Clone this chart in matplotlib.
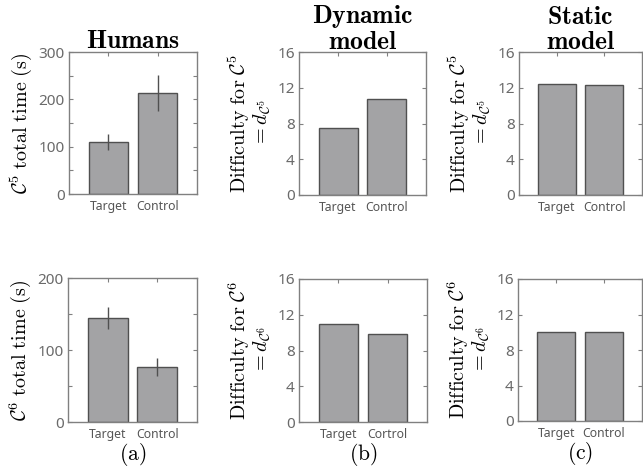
import matplotlib
matplotlib.use("Agg")
import matplotlib.pyplot as plt
from matplotlib.ticker import MultipleLocator

plt.rcParams['mathtext.fontset'] = 'cm'

categories = ["Target", "Control"]
categories_b6 = ["Target", "Cortrol"]

humans_c5 = [110, 213]
humans_c5_err = [17, 38]
humans_c6 = [144, 77]
humans_c6_err = [15.5, 12.5]
dynamic_c5 = [7.5, 10.75]
dynamic_c6 = [10.95, 9.85]
static_c5 = [12.38, 12.32]
static_c6 = [10.0, 10.0]

W, H = 643, 476
fig = plt.figure(figsize=(W / 100, H / 100), dpi=100)

def ax_at(l, r, t, b):
    return fig.add_axes([l / W, 1 - b / H, (r - l) / W, (b - t) / H])

BAR = '#a3a3a5'
EDGE = '#505050'
SPINE = '#808080'
TICKC = '#6a6a6a'

def style(ax, ylim, major, minor, labels):
    ax.set_xlim(0.2, 2.8)
    ax.set_ylim(*ylim)
    ax.yaxis.set_major_locator(MultipleLocator(major))
    if minor:
        ax.yaxis.set_minor_locator(MultipleLocator(minor))
    for s in ax.spines.values():
        s.set_color(SPINE)
        s.set_linewidth(1.0)
    ax.tick_params(axis='both', which='both', direction='in', right=True, top=True,
                   color=SPINE, length=3, width=0.8)
    ax.tick_params(axis='y', labelsize=11, labelcolor=TICKC, pad=3)
    ax.tick_params(axis='x', labelsize=8.8, labelcolor='#555555', pad=4, bottom=False)
    ax.set_xticks([1, 2])
    ax.set_xticklabels(labels)
    for lab in ax.get_xticklabels() + ax.get_yticklabels():
        lab.set_family(['Noto Sans', 'DejaVu Sans'])

def bars(ax, vals, err=None):
    ax.bar([1, 2], vals, width=0.8, color=BAR, edgecolor=EDGE, linewidth=1.0, zorder=2)
    if err is not None:
        ax.errorbar([1, 2], vals, yerr=err, fmt='none', ecolor='#505050',
                    elinewidth=1.0, capsize=0, zorder=3)

LS = 14.5
TS = 18.5
PS = 15.5

def diff_label(n):
    return (r'$\mathrm{Difficulty\ for\ }\mathcal{C}^%d$' % n + '\n' +
            r'$= d_{\mathcal{C}^%d}$' % n)

# Top row
a1 = ax_at(69, 197, 52, 194)
bars(a1, humans_c5, humans_c5_err)
style(a1, (0, 300), 100, 50, categories)
a1.set_ylabel(r'$\mathcal{C}^5\ \mathrm{total\ time\ (s)}$', fontsize=LS, labelpad=3)
a1.set_title(r'$\mathbf{Humans}$', fontsize=TS, pad=3)

a2 = ax_at(299, 426, 52, 195)
bars(a2, dynamic_c5)
style(a2, (0, 16), 4, None, categories)
a2.set_ylabel(diff_label(5), fontsize=LS, labelpad=3, linespacing=1.0)
a2.set_title(r'$\mathbf{Dynamic}$' + '\n' + r'$\mathbf{model}$', fontsize=TS, pad=2, linespacing=0.95)

a3 = ax_at(519, 642, 52, 195)
bars(a3, static_c5)
style(a3, (0, 16), 4, None, categories)
a3.set_ylabel(diff_label(5), fontsize=LS, labelpad=3, linespacing=1.0)
a3.set_title(r'$\mathbf{Static}$' + '\n' + r'$\mathbf{model}$', fontsize=TS, pad=2, linespacing=0.95)

# Bottom row
b1 = ax_at(68, 197, 278, 422)
bars(b1, humans_c6, humans_c6_err)
style(b1, (0, 200), 100, 50, categories)
b1.set_ylabel(r'$\mathcal{C}^6\ \mathrm{total\ time\ (s)}$', fontsize=LS, labelpad=3)
b1.set_xlabel(r'$\mathrm{(a)}$', fontsize=PS, labelpad=0)

b2 = ax_at(299, 427, 279, 422)
bars(b2, dynamic_c6)
style(b2, (0, 16), 4, None, categories_b6)
b2.set_ylabel(diff_label(6), fontsize=LS, labelpad=3, linespacing=1.0)
b2.set_xlabel(r'$\mathrm{(b)}$', fontsize=PS, labelpad=0)

b3 = ax_at(518, 642, 279, 421)
bars(b3, static_c6)
style(b3, (0, 16), 4, None, categories)
b3.set_ylabel(diff_label(6), fontsize=LS, labelpad=3, linespacing=1.0)
b3.set_xlabel(r'$\mathrm{(c)}$', fontsize=PS, labelpad=0)

fig.savefig('out.png', dpi=100)
